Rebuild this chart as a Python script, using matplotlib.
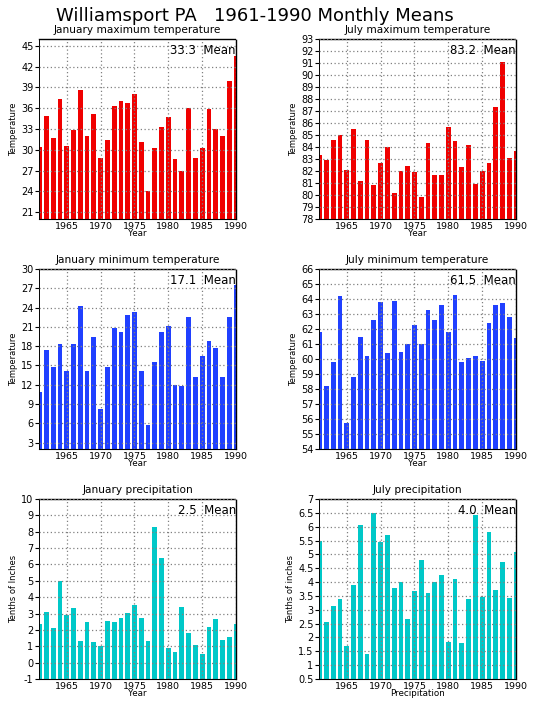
#! /usr/bin/env python3

"Williamsport PA 1961-1990 monthly means, six bar panels."

import numpy as np
import matplotlib
matplotlib.use("Agg")
import matplotlib.pyplot as plt

years = np.arange(1961, 1991)

jan_max = [30.4, 34.9, 31.7, 37.4, 30.5, 32.8, 38.6, 32.0, 35.1, 28.8,
           31.4, 36.3, 37.0, 36.7, 38.0, 31.1, 24.0, 30.2, 33.3, 34.7,
           28.6, 26.9, 36.1, 28.8, 30.2, 35.9, 33.0, 32.0, 40.0, 43.6]
jul_max = [83.3, 82.9, 84.6, 85.0, 82.1, 85.5, 81.2, 84.6, 80.8, 82.7,
           84.0, 80.2, 82.0, 82.4, 81.9, 79.8, 84.3, 81.7, 81.7, 85.7,
           84.5, 82.3, 84.2, 80.9, 82.0, 82.7, 87.3, 91.1, 83.1, 83.7]
jan_min = [10.8, 17.4, 14.7, 18.3, 14.1, 18.4, 24.2, 14.1, 19.4, 8.3,
           14.7, 20.9, 20.2, 22.8, 23.3, 14.2, 5.8, 15.5, 20.2, 21.2,
           11.9, 11.8, 22.5, 13.2, 16.4, 18.8, 17.7, 13.2, 22.6, 27.5]
jul_min = [61.8, 58.2, 59.8, 64.2, 55.7, 58.8, 61.5, 60.2, 62.6, 63.8,
           60.4, 63.9, 60.5, 61.0, 62.3, 61.0, 63.3, 62.6, 63.6, 61.8,
           64.3, 59.8, 60.1, 60.2, 59.9, 62.4, 63.6, 63.7, 62.8, 61.4]
jan_prcp = [2.36, 3.09, 2.11, 4.98, 2.91, 3.33, 1.32, 2.48, 1.26, 1.02,
            2.54, 2.48, 2.72, 3.03, 3.52, 2.72, 1.32, 8.27, 6.38, 0.89,
            0.65, 3.39, 1.81, 1.08, 0.53, 2.17, 2.66, 1.38, 1.57, 2.36]
jul_prcp = [5.49, 2.56, 3.14, 3.39, 1.70, 3.89, 6.05, 1.41, 6.48, 5.44,
            5.69, 3.79, 4.00, 2.67, 3.68, 4.79, 3.61, 4.00, 4.25, 1.84,
            4.11, 1.81, 3.39, 6.41, 3.46, 5.80, 3.71, 4.72, 3.43, 5.08]

titles = ["January maximum temperature", "July maximum temperature",
          "January minimum temperature", "July minimum temperature",
          "January precipitation", "July precipitation"]
means = ["33.3", "83.2", "17.1", "61.5", "2.5", "4.0"]
ylabels = ["Temperature", "Temperature", "Temperature", "Temperature",
           "Tenths of Inches", "Tenths of inches"]
xlabels = ["Year", "Year", "Year", "Year", "Year", "Precipitation"]
series = [jan_max, jul_max, jan_min, jul_min, jan_prcp, jul_prcp]
colors = ["#f00000", "#f00000", "#2040ff", "#2040ff", "#00c8c8", "#00c8c8"]
ylims = [(20, 46), (78, 93), (2, 30), (54, 66), (-1, 10), (0.5, 7)]
yticks = [np.arange(21, 46, 3), np.arange(78, 94, 1), np.arange(3, 31, 3),
          np.arange(54, 67, 1), np.arange(-1, 11, 1), np.arange(0.5, 7.5, 0.5)]

fig = plt.figure(figsize=(5.35, 7.11), dpi=100)
W, H = 535.0, 711.0
lefts = [39, 319]
tops = [39, 269, 499]
aw, ah = 197, 180

fig.text(255 / W, 1 - 16 / H, "Williamsport PA   1961-1990 Monthly Means",
         ha="center", va="center", fontsize=13)

for i in range(6):
    row, col = divmod(i, 2)
    ax = fig.add_axes([lefts[col] / W, 1 - (tops[row] + ah) / H, aw / W, ah / H])
    lo = ylims[i][0]
    vals = np.array(series[i])
    ax.bar(years, vals - lo, bottom=lo, width=0.7, color=colors[i], zorder=1)
    ax.set_xlim(1960.9, 1990)
    ax.set_ylim(*ylims[i])
    ax.set_xticks([1965, 1970, 1975, 1980, 1985, 1990])
    ax.set_yticks(yticks[i])
    ax.set_yticklabels(["%g" % t for t in yticks[i]])
    ax.grid(True, color="#808080", linestyle=(0, (1, 2)), linewidth=0.9, zorder=2)
    ax.set_axisbelow(False)
    for s in ["top", "right"]:
        ax.spines[s].set_linestyle((0, (1, 1)))
        ax.spines[s].set_linewidth(1.0)
    ax.spines["left"].set_linewidth(0.7)
    ax.tick_params(axis="x", length=0, labelsize=6.8, pad=2)
    ax.tick_params(axis="y", length=3, labelsize=7, pad=1)
    ax.set_title(titles[i], fontsize=7.6, pad=4)
    ax.set_xlabel(xlabels[i], fontsize=6.3, labelpad=-1)
    ax.set_ylabel(ylabels[i], fontsize=6, labelpad=2)
    ax.text(1.0, 0.935, means[i] + "  Mean", transform=ax.transAxes,
            ha="right", va="center", fontsize=8.5, zorder=5)

fig.savefig("out.png", dpi=100)
